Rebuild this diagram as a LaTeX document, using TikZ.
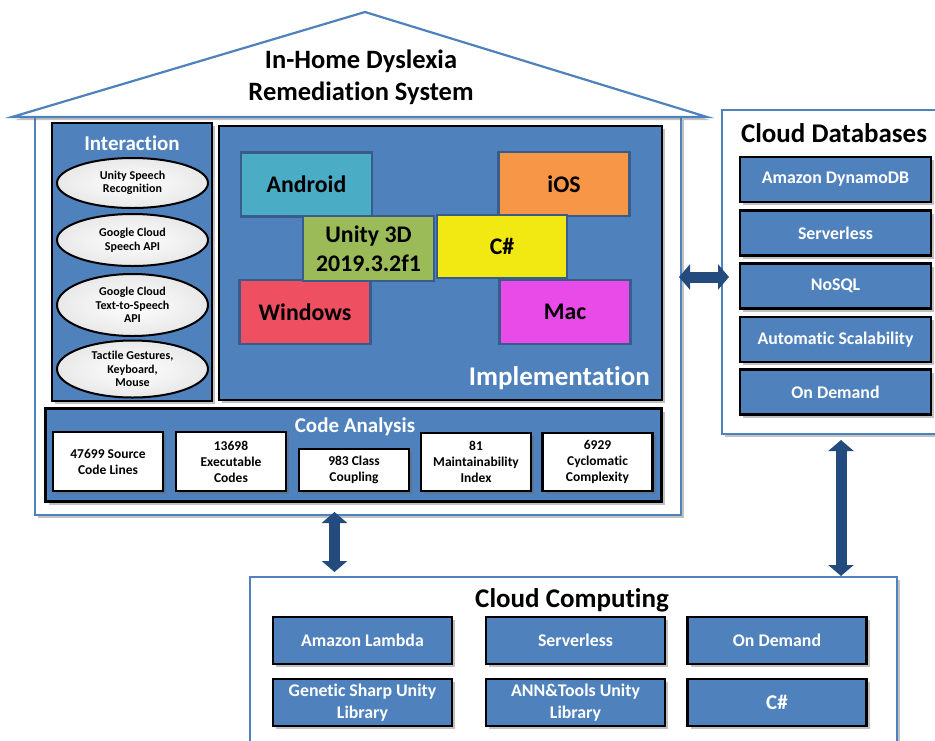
\documentclass[tikz,border=0pt]{standalone}
\usepackage{fontspec}
\setmainfont{Carlito}[Ligatures=NoCommon]
\usetikzlibrary{shadows,arrows.meta,shapes.geometric}
\definecolor{pblue}{RGB}{79,129,189}
\definecolor{eblue}{RGB}{56,93,138}
\definecolor{ablue}{RGB}{35,75,125}
\definecolor{cAndroid}{RGB}{75,172,198}
\definecolor{cIOS}{RGB}{247,150,70}
\definecolor{cUnity}{RGB}{155,187,89}
\definecolor{cCsharp}{RGB}{242,232,18}
\definecolor{cWin}{RGB}{238,80,98}
\definecolor{cMac}{RGB}{232,75,232}
\begin{document}
\begin{tikzpicture}[x=1pt,y=-1pt,
 shad/.style={drop shadow={opacity=0.4,shadow xshift=3pt,shadow yshift=-3pt,fill=black!60}},
 outerbox/.style={draw=pblue,line width=2.2pt,fill=white,shad,inner sep=0pt},
 panel/.style={draw=black,line width=2.5pt,fill=pblue,inner sep=0pt,shad},
 ell/.style={ellipse,draw=black,line width=2pt,inner color=white,outer color=white!82!gray,inner sep=0pt,align=center,font=\fontsize{12}{13.5}\selectfont\bfseries,minimum width=151pt},
 plat/.style={draw=eblue,line width=2.5pt,inner sep=0pt,align=center,minimum width=131pt,minimum height=64pt,font=\fontsize{23.8}{28.5}\selectfont\bfseries},
 metric/.style={draw=black,line width=2.5pt,fill=white,shad,inner sep=0pt,align=center,minimum width=110pt,font=\fontsize{13.5}{16}\selectfont\bfseries},
 item/.style={draw=black,line width=2.5pt,fill=pblue,shad,inner sep=0pt,align=center,text=white,font=\fontsize{17.8}{22}\selectfont\bfseries},
 bigtitle/.style={font=\fontsize{27}{31}\selectfont\bfseries,align=center,inner sep=0pt},
 dbl/.style={draw=ablue,line width=11pt,{Triangle[width=25pt,length=11pt]}-{Triangle[width=25pt,length=11pt]}}
]
\useasboundingbox (0,0) rectangle (935,740);

% house body and roof
\node[outerbox,minimum width=646pt,minimum height=398pt] (house) at (358,316) {};
\draw[draw=pblue,line width=2.2pt,fill=white,shad,line join=miter] (12,117) -- (365,12) -- (707,117) -- cycle;
\node[bigtitle,font=\fontsize{26.5}{32}\selectfont\bfseries] (title) at (361,77) {In-Home Dyslexia\\Remediation System};

% Interaction panel
\node[panel,minimum width=160pt,minimum height=278pt] (inter) at (132,262) {};
\node[font=\fontsize{21}{24}\selectfont\bfseries,text=white,inner sep=0pt] (intert) at (132,143) {Interaction};
\node[ell,minimum height=50pt] (e1) at (132.5,183) {Unity Speech\\Recognition};
\node[ell,minimum height=52pt] (e2) at (132.5,240) {Google Cloud\\Speech API};
\node[ell,minimum height=62pt] (e3) at (132.5,305) {Google Cloud\\Text-to-Speech\\API};
\node[ell,minimum height=57pt] (e4) at (132.5,369) {Tactile Gestures,\\Keyboard,\\Mouse};

% Implementation panel
\node[panel,minimum width=443pt,minimum height=274pt] (impl) at (440.5,263) {};
\node[plat,fill=cAndroid] (android) at (306.5,184.5) {Android};
\node[plat,fill=cIOS] (ios) at (564,184) {iOS};
\node[plat,fill=cWin] (windows) at (305,312) {Windows};
\node[plat,fill=cMac] (mac) at (565,312) {Mac};
\node[plat,fill=cUnity,minimum height=65pt] (unity) at (368.5,248.5) {Unity 3D\\2019.3.2f1};
\node[plat,fill=cCsharp,minimum width=130pt,minimum height=63pt] (csharp) at (502,246.5) {C\#};
\node[font=\fontsize{27}{30}\selectfont\bfseries,text=white,anchor=east,inner sep=0pt] (implt) at (650,378) {Implementation};

% Code analysis panel
\node[panel,minimum width=616pt,minimum height=93pt] (code) at (353.5,455) {};
\node[font=\fontsize{21}{24}\selectfont\bfseries,text=white,inner sep=0pt] (codet) at (355,427) {Code Analysis};
\node[metric,minimum height=59pt] (m1) at (108,461.5) {47699 Source\\Code Lines};
\node[metric,minimum height=59pt] (m2) at (231,461.5) {13698\\Executable\\Codes};
\node[metric,minimum height=42pt] (m3) at (354,470) {983 Class\\Coupling};
\node[metric,minimum height=58pt] (m4) at (476,462) {81\\Maintainability\\Index};
\node[metric,minimum height=58pt] (m5) at (597.5,462) {6929\\Cyclomatic\\Complexity};

% Cloud databases
\node[outerbox,minimum width=230pt,minimum height=324pt] (db) at (837,272) {};
\node[bigtitle] (dbt) at (834,133) {Cloud Databases};
\node[item,minimum width=191pt,minimum height=45pt] (d1) at (835.5,179.5) {Amazon DynamoDB};
\node[item,minimum width=191pt,minimum height=45pt] (d2) at (835.5,233) {Serverless};
\node[item,minimum width=191pt,minimum height=45pt] (d3) at (835.5,286) {NoSQL};
\node[item,minimum width=191pt,minimum height=45pt] (d4) at (835.5,339.5) {Automatic Scalability};
\node[item,minimum width=191pt,minimum height=45pt] (d5) at (835.5,392) {On Demand};

% Cloud computing
\node[outerbox,minimum width=647pt,minimum height=180pt] (cc) at (573.5,667) {};
\node[bigtitle] (cct) at (572,600) {Cloud Computing};
\node[item,minimum width=179pt,minimum height=47pt] (c1) at (362.5,640.5) {Amazon Lambda};
\node[item,minimum width=179pt,minimum height=47pt] (c2) at (575.5,640.5) {Serverless};
\node[item,minimum width=179pt,minimum height=47pt] (c3) at (777,640.5) {On Demand};
\node[item,minimum width=179pt,minimum height=47pt] (c4) at (362.5,702.5) {Genetic Sharp Unity\\Library};
\node[item,minimum width=179pt,minimum height=47pt] (c5) at (575.5,702.5) {ANN\&Tools Unity\\Library};
\node[item,minimum width=179pt,minimum height=47pt,font=\fontsize{21}{24}\selectfont\bfseries] (c6) at (777,702.5) {C\#};

% arrows
\coordinate (a1s) at (679,277);
\coordinate (a1e) at (729,277);
\coordinate (a2s) at (334.5,512);
\coordinate (a2e) at (334.5,572);
\coordinate (a3s) at (841,440);
\coordinate (a3e) at (841,576);
\draw[dbl] (a1s) -- (a1e);
\draw[dbl] (a2s) -- (a2e);
\draw[dbl] (a3s) -- (a3e);
\end{tikzpicture}
\end{document}
